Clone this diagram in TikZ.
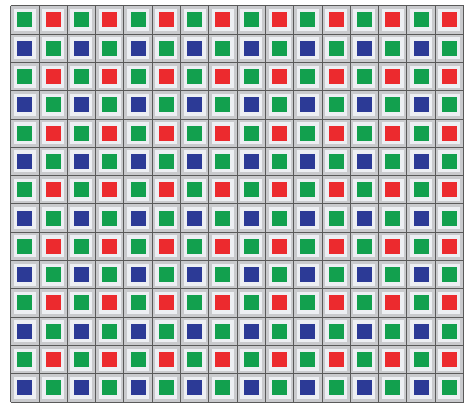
\documentclass[tikz,border=0pt]{standalone}
\usetikzlibrary{positioning}
\definecolor{pixgreen}{HTML}{12A04E}
\definecolor{pixred}{HTML}{EC2A2E}
\definecolor{pixblue}{HTML}{2C3A96}
\definecolor{gridline}{HTML}{5A5A5A}
\definecolor{cellgray}{HTML}{C9CACD}
\definecolor{cellhalo}{HTML}{EDEFF3}
\begin{document}
\begin{tikzpicture}[x=1pt,y=-1pt,
  halo/.style={fill=cellhalo,draw=none,minimum size=22pt,inner sep=0pt},
  photosite/.style={draw=none,minimum size=15pt,inner sep=0pt},
  gridrule/.style={gridline,line width=1pt},
]
  \useasboundingbox (0,0) rectangle (465,408);
  \fill[cellgray] (10.7,5.8) rectangle (463.5,402);

  % Bayer mosaic: G R / B G
  \foreach \r in {0,...,13} {
    \foreach \c in {0,...,15} {
      \pgfmathsetmacro{\cx}{24.85+28.3*\c}
      \pgfmathsetmacro{\cy}{19.95+28.3*\r}
      \pgfmathtruncatemacro{\kind}{2*mod(\r,2)+mod(\c,2)}
      \ifcase\kind\def\tint{pixgreen}\or\def\tint{pixred}\or\def\tint{pixblue}\or\def\tint{pixgreen}\fi
      \node[halo] (halo-\r-\c) at (\cx,\cy) {};
      \node[photosite,fill=\tint] (site-\r-\c) at (\cx,\cy) {};
    }
  }

  \foreach \c in {0,...,16}
    \draw[gridrule] (10.7+28.3*\c,5.8) -- ++(0,396.2);
  \foreach \r in {0,...,14}
    \draw[gridrule] (10.7,5.8+28.3*\r) -- ++(452.8,0);
\end{tikzpicture}
\end{document}
